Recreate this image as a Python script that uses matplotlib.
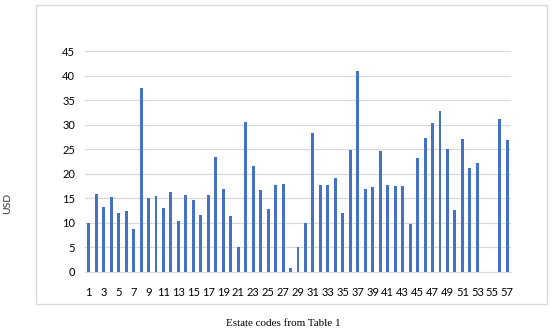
import matplotlib
matplotlib.use("Agg")
import matplotlib.pyplot as plt
from matplotlib.patches import Rectangle

# estate codes 1..57 and the value (USD)
codes = list(range(1, 58))
usd = [10.0, 15.9, 13.3, 15.2, 12.0, 12.4, 8.8, 37.4, 15.0, 15.5,
       13.1, 16.3, 10.4, 15.6, 14.6, 11.7, 15.6, 23.4, 16.8, 11.4,
       5.0, 30.5, 21.5, 16.7, 12.9, 17.7, 18.0, 0.75, 5.0, 9.9,
       28.3, 17.8, 17.8, 19.2, 12.0, 24.9, 40.9, 17.0, 17.3, 24.7,
       17.8, 17.5, 17.5, 9.8, 23.2, 27.3, 30.3, 32.8, 25.0, 12.7,
       27.1, 21.1, 22.1, 0, 0, 31.2, 26.9]
yticks = list(range(0, 50, 5))
xtick_codes = codes[::2]

plt.rcParams['font.family'] = ['Lato', 'DejaVu Sans']

fig = plt.figure(figsize=(5.52, 3.32), dpi=100)
ax = fig.add_axes([85/552, 1 - 272/332, (511 - 85)/552, (272 - 51)/332])

ax.bar(codes, usd, width=0.4, color='#4472C4', zorder=3)
ax.set_xlim(0.5, 57.5)
ax.set_ylim(0, 45)
ax.set_yticks(yticks)
ax.set_xticks(xtick_codes)
ax.set_xticklabels([str(c) for c in xtick_codes])
ax.grid(axis='y', color='#D9D9D9', linewidth=0.9, zorder=0)
for s in ['top', 'right', 'left']:
    ax.spines[s].set_visible(False)
ax.spines['bottom'].set_color('#D9D9D9')
ax.tick_params(axis='both', length=0, labelsize=8, colors='#000000')
ax.tick_params(axis='x', pad=11)
ax.tick_params(axis='y', pad=7)

# outer chart border
fig.patches.append(Rectangle((36/552, 1 - 304/332), (547 - 36)/552, (304 - 5)/332,
                             transform=fig.transFigure, fill=False,
                             edgecolor='#D9D9D9', linewidth=1))

fig.text(8/552, 1 - 203/332, 'USD', rotation=90, ha='center', va='center',
         fontsize=7.5, color='#333333')
fig.text(283/552, 1 - 323/332, 'Estate codes from Table 1', ha='center', va='center',
         fontsize=8, family='Liberation Serif')

fig.savefig('out.png', dpi=100)
